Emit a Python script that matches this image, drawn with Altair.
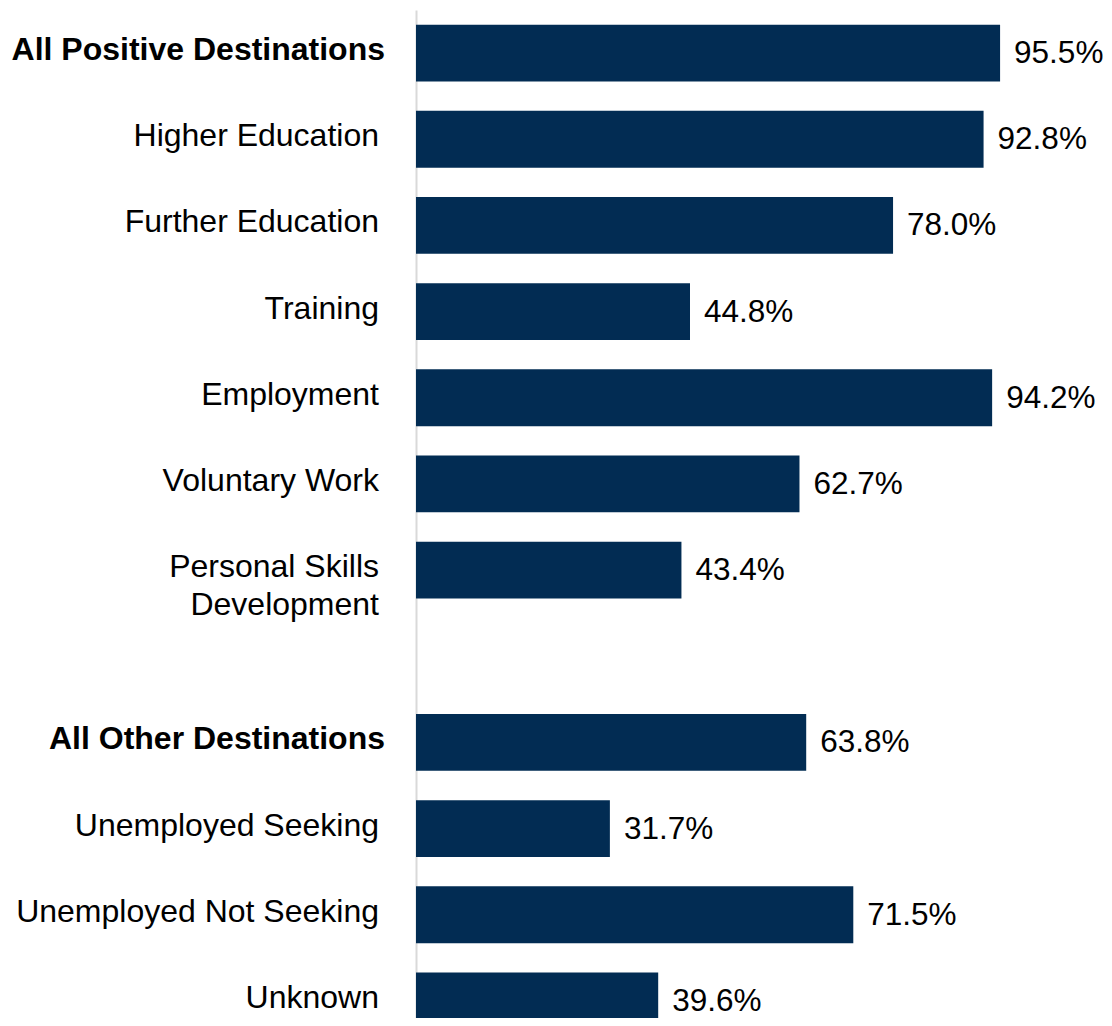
import altair as alt
import pandas as pd

categories = [
    "All Positive Destinations",
    "Higher Education",
    "Further Education",
    "Training",
    "Employment",
    "Voluntary Work",
    "Personal Skills Development",
    "All Other Destinations",
    "Unemployed Seeking",
    "Unemployed Not Seeking",
    "Unknown",
]
values = [95.5, 92.8, 78.0, 44.8, 94.2, 62.7, 43.4, 63.8, 31.7, 71.5, 39.6]
bold_labels = ["All Positive Destinations", "All Other Destinations"]
gap_label = " "

domain = categories[:7] + [gap_label] + categories[7:]

df = pd.DataFrame({"category": categories, "value": values})

FONT = "Liberation Sans"
NAVY = "#022C53"

bold_test = "datum.category == '%s' || datum.category == '%s'" % tuple(bold_labels)

y_enc = alt.Y(
    "category:N",
    sort=domain,
    scale=alt.Scale(domain=domain, range=[0, 1034], paddingInner=0.34, paddingOuter=0.17),
    axis=alt.Axis(
        title=None,
        labels=False,
        ticks=False,
        tickSize=0,
        grid=False,
        domain=True,
        domainColor="#D9D9D9",
        domainWidth=2,
    ),
)

x_enc = alt.X("value:Q", scale=alt.Scale(domain=[0, 112], nice=False), axis=None)

bars = alt.Chart(df).mark_bar(color=NAVY).encode(y=y_enc, x=x_enc)

values_text = (
    alt.Chart(df)
    .transform_calculate(lbl="format(datum.value, '.1f') + '%'")
    .mark_text(align="left", baseline="middle", dx=14, dy=1, font=FONT, fontSize=31.5, color="#000000")
    .encode(y=y_enc, x=x_enc, text="lbl:N")
)

base_cat = alt.Chart(df).transform_calculate(
    disp="datum.category == 'Personal Skills Development' ? 'Personal Skills\\nDevelopment' : datum.category"
)

cat_normal = (
    base_cat.transform_filter("!(" + bold_test + ")")
    .mark_text(align="right", baseline="middle", dy=-3, font=FONT, fontSize=32, color="#000000",
               lineBreak="\n", lineHeight=38)
    .encode(y=y_enc, x=alt.value(-37), text="disp:N")
)

cat_bold = (
    base_cat.transform_filter(bold_test)
    .mark_text(align="right", baseline="middle", dy=-3, font=FONT, fontSize=32, fontWeight="bold",
               color="#000000")
    .encode(y=y_enc, x=alt.value(-31), text="disp:N")
)

chart = (
    alt.layer(bars, values_text, cat_normal, cat_bold)
    .properties(
        width=685,
        height=1008,
        autosize=alt.AutoSizeParams(type="none"),
        padding={"left": 408, "top": 2, "right": 3, "bottom": 0},
        view=alt.ViewBackground(stroke="transparent", strokeWidth=0),
    )
    .configure_view(stroke="transparent", strokeWidth=0)
    .configure(background="#FFFFFF")
)

chart.save("out.html", embed_options={"renderer": "svg", "actions": False})
